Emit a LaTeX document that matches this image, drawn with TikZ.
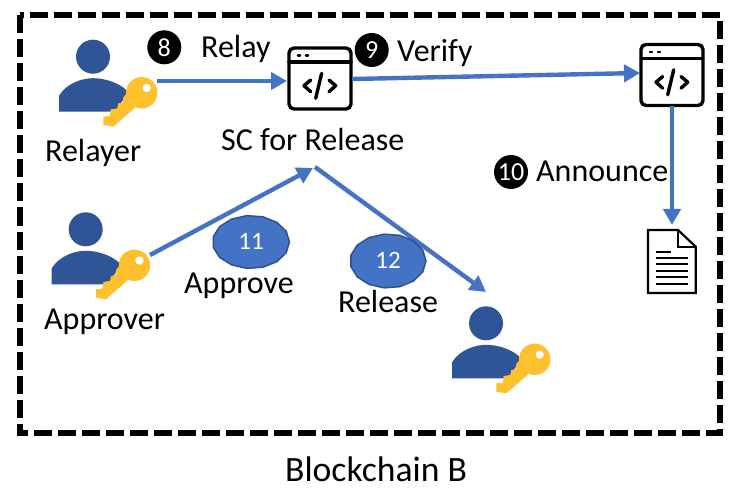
\documentclass[tikz,border=0pt]{standalone}
\usepackage{fontspec}
\setmainfont{Carlito}
\usetikzlibrary{arrows.meta}
\definecolor{flow}{HTML}{4472C4}
\definecolor{flowdark}{HTML}{2F528F}
\definecolor{person}{HTML}{2F5597}
\definecolor{keygold}{HTML}{FFC02D}
\tikzset{
  x=1pt,y=-1pt,
  flowline/.style={draw=flow,line width=4.4pt,-{Triangle[length=16pt,width=17pt]}},
  txt/.style={inner sep=0pt,font=\fontsize{32}{34}\selectfont,text=black,anchor=base west},
  badge/.style={circle,fill=black,text=white,inner sep=0pt,minimum size=34pt,font=\fontsize{26}{26}\selectfont},
  bubbletext/.style={inner sep=0pt,text=white,font=\fontsize{25}{26}\selectfont},
  bubble/.style={fill=flow,draw=flowdark,line width=1.5pt},
  iconline/.style={draw=black,line width=3.4pt,line cap=round,line join=round},
  docline/.style={draw=black,line width=2pt},
  userkey/.pic={
    \fill[person] (0,0) circle[radius=17];
    \fill[person] (-34,55) -- (-34,39) .. controls (-26,26) and (-10,21.5) .. (0,21.5)
       .. controls (12,21.5) and (26,26) .. (34,34) -- (33.7,38) -- (24,52) -- (17,55) -- cycle;
    \fill[keygold,even odd rule]
      (48.7,36) circle[radius=15.7] (53.7,31.3) circle[radius=4.3];
    \fill[keygold] (33.7,36.7) -- (30.3,40.7) -- (29.7,46) -- (25.3,46.7) -- (24.3,51.7)
      -- (17.7,52.7) -- (17,59.3) -- (10.3,60) -- (10.3,68.3) -- (20.3,70) -- (42,51) -- (42,40) -- cycle;
  },
  codeicon/.pic={
    \draw[iconline,rounded corners=5pt] (-31,-30.5) rectangle (31,30.5);
    \draw[iconline] (-31,-16.5) -- (31,-16.5);
    \draw[iconline,line width=2.5pt] (-22,-23) -- (-20,-23) (-14,-23) -- (-12,-23);
    \draw[iconline] (-9.3,1.5) -- (-16,7.2) -- (-9.3,13.2);
    \draw[iconline] (1.7,-5.2) -- (-4.3,19.8);
    \draw[iconline] (9,1.5) -- (15.7,7.2) -- (9,13.2);
  }
}
\begin{document}
\begin{tikzpicture}
\useasboundingbox (0,0) rectangle (735,494);
\fill[white] (0,0) rectangle (735,494);
\draw[line width=6pt,dash pattern=on 18pt off 6pt] (19.5,15.5) rectangle (720,433);

\pic at (93,56.7) {userkey};
\pic at (85.7,229.3) {userkey};
\pic at (486,323.3) {userkey};
\pic at (320,78.5) {codeicon};
\pic at (672,75) {codeicon};

% anchors of the connectors
\coordinate (relayerkey) at (157,81);
\coordinate (codeoneL) at (287,81);
\coordinate (codeoneR) at (352,79);
\coordinate (codetwoL) at (640,73);
\coordinate (codetwoB) at (672,106);
\coordinate (docT) at (672,225);
\coordinate (approverkey) at (150,255);
\coordinate (apex) at (313,168);
\coordinate (apextop) at (315,167);
\coordinate (receiver) at (486,292);

\draw[flowline] (relayerkey) -- (codeoneL);
\draw[flowline] (codeoneR) -- (codetwoL);
\draw[flowline] (codetwoB) -- (docT);
\draw[flowline] (approverkey) -- (apex);
\draw[flowline] (apextop) -- (receiver);

% document
\draw[draw=black,fill=white,line width=2.2pt,line join=miter]
  (648,230) -- (678,230) -- (695.7,246.7) -- (695.7,293) -- (648,293) -- cycle;
\draw[draw=black,line width=2.2pt] (678,230) -- (678,246.7) -- (695.7,246.7);
\draw[docline] (656,251.7) -- (671,251.7);
\foreach \y in {257.7,264,270.7,277.3,284} \draw[docline] (656,\y) -- (688,\y);

% numbered bubbles
\draw[bubble] plot[samples=15,domain=0:336] ({251+38.5*cos(\x)},{242+26.5*sin(\x)}) -- cycle;
\draw[bubble] plot[samples=15,domain=0:336] ({388+38*cos(\x)},{261+27*sin(\x)}) -- cycle;
\node[bubbletext] (n11) at (251,241.5) {11};
\node[bubbletext] (n12) at (388,260.5) {12};

\node[badge] (b8) at (164.3,47.3) {8};
\node[badge] (b9) at (371.7,50) {9};
\node[badge] (b10) at (511,172) {10};

\node[txt] (relay) at (201,58) {Relay};
\node[txt] (verify) at (397,62) {Verify};
\node[txt] (announce) at (536,182) {Announce};
\node[txt] (relayer) at (45,162) {Relayer};
\node[txt] (sc) at (221,151) {SC for Release};
\node[txt] (approver) at (44,329) {Approver};
\node[txt] (approve) at (184,293) {Approve};
\node[txt] (release) at (338,312) {Release};
\node[txt,font=\fontsize{35.6}{38}\selectfont] (chain) at (285,481) {Blockchain B};
\end{tikzpicture}
\end{document}
